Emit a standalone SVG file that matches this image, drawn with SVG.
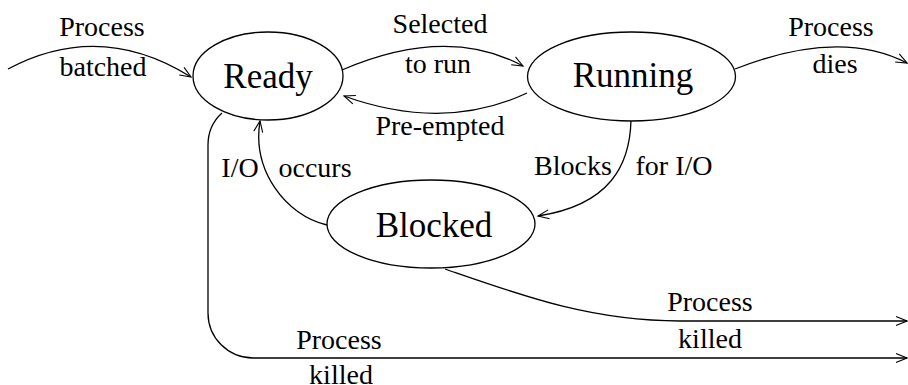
<svg xmlns="http://www.w3.org/2000/svg" width="908" height="385" viewBox="0 0 908 385">
  <style>
    .state ellipse { fill: #fff; stroke: #000; stroke-width: 1.3; }
    .state text { font-family: "Liberation Serif", "Times New Roman", serif; font-size: 35px; text-anchor: middle; fill: #000; }
    .edges path { fill: none; stroke: #000; stroke-width: 1.3; }
    .lbl { font-family: "Liberation Serif", "Times New Roman", serif; font-size: 28px; text-anchor: middle; fill: #000; }
  </style>
  <defs>
    <marker id="open" markerUnits="userSpaceOnUse" markerWidth="14" markerHeight="12" refX="11" refY="4.5" orient="auto" overflow="visible">
      <path d="M0,0 L11,4.5 L0,9" fill="none" stroke="#000" stroke-width="1.1"/>
    </marker>
  </defs>

  <rect width="908" height="385" fill="#fff"/>

  <!-- transitions -->
  <g class="edges">
    <path id="e-batched" d="M8,69 Q100,20 191,77" marker-end="url(#open)"/>
    <path id="e-selected" d="M342,70 Q447,25 523,66" marker-end="url(#open)"/>
    <path id="e-preempted" d="M527,93 Q444,132 344,96" marker-end="url(#open)"/>
    <path id="e-dies" d="M735,69 Q839,28 907,63" marker-end="url(#open)"/>
    <path id="e-blocks" d="M631,120 C630,165 610,205 538,216" marker-end="url(#open)"/>
    <path id="e-io" d="M327,225 C285,215 252,170 260,121" marker-end="url(#open)"/>
    <path id="e-killed-ready" d="M222,113 C212,122 208,132 208,145 L208,313 A45,45 0 0 0 253,358 L907,358" marker-end="url(#open)"/>
    <path id="e-killed-blocked" d="M445,269 C520,295 590,321 680,321 L907,321" marker-end="url(#open)"/>
  </g>

  <!-- states -->
  <g id="ready" class="state">
    <ellipse cx="268" cy="76" rx="75" ry="44"/>
    <text x="268" y="88">Ready</text>
  </g>
  <g id="running" class="state">
    <ellipse cx="631.5" cy="76.5" rx="104" ry="44.5"/>
    <text x="633" y="87">Running</text>
  </g>
  <g id="blocked" class="state">
    <ellipse cx="431" cy="224" rx="104" ry="44"/>
    <text x="434" y="237">Blocked</text>
  </g>

  <!-- transition labels -->
  <g id="labels">
    <text class="lbl" x="102" y="36">Process</text>
    <text class="lbl" x="103" y="76">batched</text>
    <text class="lbl" x="440" y="33">Selected</text>
    <text class="lbl" x="438" y="73">to run</text>
    <text class="lbl" x="440" y="135">Pre-empted</text>
    <text class="lbl" x="831" y="36">Process</text>
    <text class="lbl" x="835" y="73">dies</text>
    <text class="lbl" x="240" y="177">I/O</text>
    <text class="lbl" x="315" y="177">occurs</text>
    <text class="lbl" x="573" y="175">Blocks</text>
    <text class="lbl" x="674" y="175">for I/O</text>
    <text class="lbl" x="710" y="311">Process</text>
    <text class="lbl" x="710" y="348">killed</text>
    <text class="lbl" x="339" y="349">Process</text>
    <text class="lbl" x="341" y="384">killed</text>
  </g>
</svg>
